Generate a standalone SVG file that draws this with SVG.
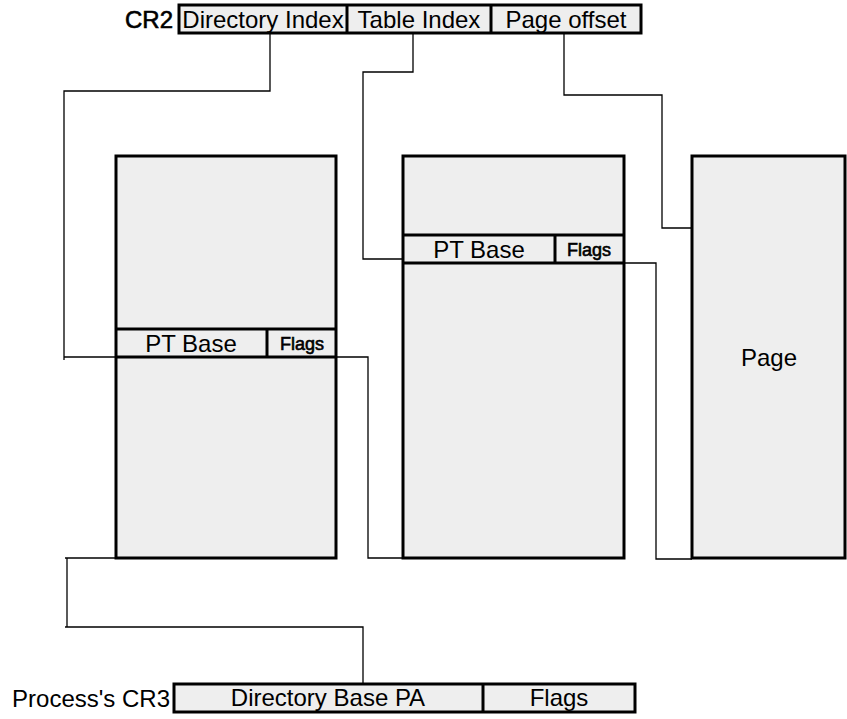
<svg xmlns="http://www.w3.org/2000/svg" width="847" height="719" viewBox="0 0 847 719">
<style>
.box{fill:#eeeeee;stroke:#000;stroke-width:3}
.div{stroke:#000;stroke-width:3}
.con{fill:none;stroke:#000;stroke-width:1.3}
text{font-family:"Liberation Sans",Arial,sans-serif;font-size:24px;fill:#000}
.c{text-anchor:middle}
.b{stroke:#000;stroke-width:0.6}
.sm{font-size:18px;stroke:#000;stroke-width:0.6}
</style>
<rect width="847" height="719" fill="#fff"/>
<g id="connectors">
<polyline class="con" points="270,33 270,91 64,91 64,360"/>
<polyline class="con" points="64,357 116,357"/>
<polyline class="con" points="413,33 413,72 363,72 363,259 403,259"/>
<polyline class="con" points="564,33 564,95 662,95 662,228 692,228"/>
<polyline class="con" points="336,357 368,357 368,558 403,558"/>
<polyline class="con" points="624,263 656,263 656,559 692,559"/>
<polyline class="con" points="116,558 65,558"/>
<polyline class="con" points="67,558 67,627"/>
<polyline class="con" points="65,627 363,627 363,684"/>
</g>
<g id="cr2">
<text x="173" y="28" text-anchor="end" class="b">CR2</text>
<rect class="box" x="179" y="5" width="462" height="28"/>
<line class="div" x1="347" y1="5" x2="347" y2="33"/>
<line class="div" x1="491" y1="5" x2="491" y2="33"/>
<text class="c" x="263" y="28">Directory Index</text>
<text class="c" x="419" y="28">Table Index</text>
<text class="c" x="566" y="28">Page offset</text>
</g>
<g id="page-directory">
<rect class="box" x="116" y="156" width="220" height="402"/>
<line class="div" x1="116" y1="329" x2="336" y2="329"/>
<line class="div" x1="116" y1="357" x2="336" y2="357"/>
<line class="div" x1="267" y1="329" x2="267" y2="357"/>
<text class="c" x="191" y="352">PT Base</text>
<text class="sm c" x="302" y="350">Flags</text>
</g>
<g id="page-table">
<rect class="box" x="403" y="156" width="221" height="402"/>
<line class="div" x1="403" y1="235" x2="624" y2="235"/>
<line class="div" x1="403" y1="263" x2="624" y2="263"/>
<line class="div" x1="555" y1="235" x2="555" y2="263"/>
<text class="c" x="479" y="258">PT Base</text>
<text class="sm c" x="589" y="256">Flags</text>
</g>
<g id="page">
<rect class="box" x="692" y="156" width="153" height="402"/>
<text class="c" x="769" y="366">Page</text>
</g>
<g id="cr3">
<text x="170" y="707" text-anchor="end">Process's CR3</text>
<rect class="box" x="174" y="684" width="461" height="28"/>
<line class="div" x1="483" y1="684" x2="483" y2="712"/>
<text class="c" x="328" y="706">Directory Base PA</text>
<text class="c" x="559" y="706">Flags</text>
</g>
</svg>
